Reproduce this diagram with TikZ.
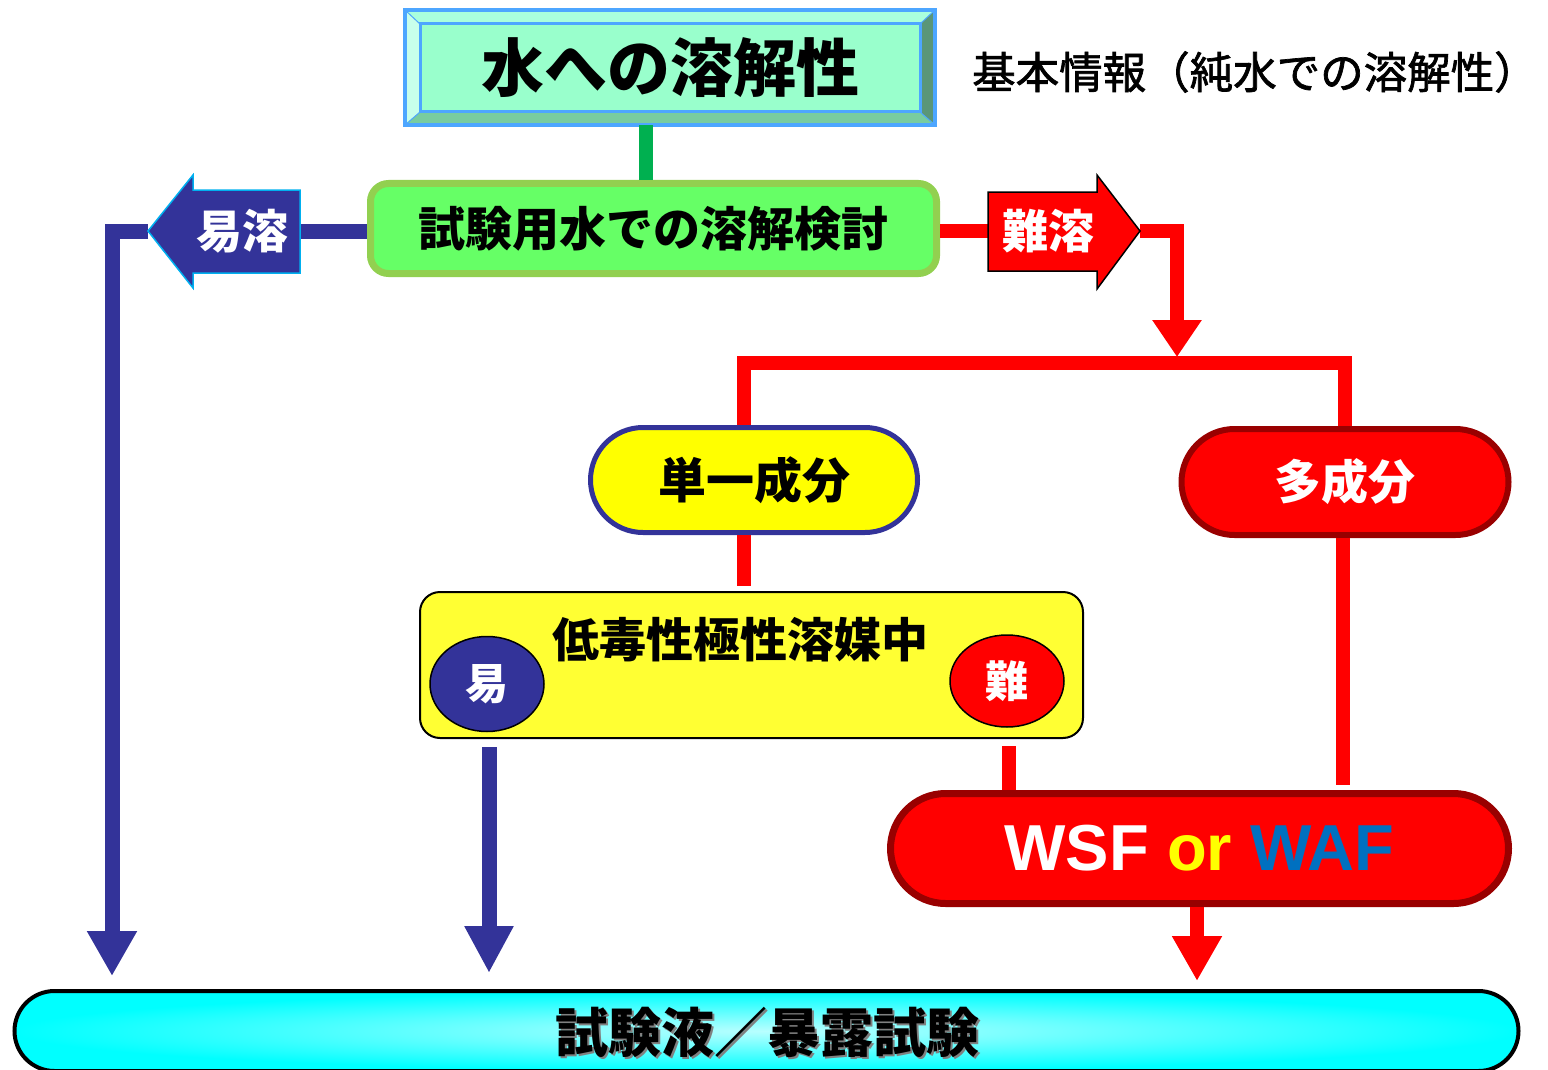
\documentclass[tikz,border=0pt]{standalone}
\usepackage{fontspec}
\newfontfamily\jp{Noto Sans CJK JP}
\newfontfamily\jpinfo{Noto Sans CJK JP}[FakeBold=1.6]
\newfontfamily\lat{Liberation Sans}
\usetikzlibrary{shapes.misc,shapes.geometric,arrows.meta,calc}
\definecolor{navy}{HTML}{333399}
\definecolor{rd}{HTML}{FF0000}
\definecolor{drd}{HTML}{990000}
\definecolor{grn}{HTML}{00B050}
\definecolor{lgreen}{HTML}{66FF66}
\definecolor{lgborder}{HTML}{92D050}
\definecolor{mint}{HTML}{99FFCC}
\definecolor{minttop}{HTML}{AAFFDD}
\definecolor{mintleft}{HTML}{C8FFEB}
\definecolor{mintright}{HTML}{5A9678}
\definecolor{mintbot}{HTML}{78CCA0}
\definecolor{skyb}{HTML}{4DA6FF}
\definecolor{arrowedge}{HTML}{00B0F0}
\definecolor{cyanout}{HTML}{00FFFF}
\definecolor{cyanin}{HTML}{B8FFFF}
\definecolor{wafblue}{HTML}{0070C0}
\definecolor{yel}{HTML}{FFFF00}
\definecolor{yel2}{HTML}{FFFF33}
\tikzset{
  jfont/.style={font=\jp\bfseries\fontsize{#1}{#1}\selectfont},
  blueline/.style={draw=navy,line width=15pt},
  redline/.style={draw=rd,line width=14pt},
  pill/.style={rounded rectangle,inner sep=0pt},
}
\begin{document}
\begin{tikzpicture}[x=1pt,y=-1pt]
\useasboundingbox (0,0) rectangle (1548,1070);
% ---- title bevel box
\fill[mint] (420,24) rectangle (920,112);
\fill[minttop] (405,10) -- (935,10) -- (920,24) -- (420,24) -- cycle;
\fill[mintleft] (405,10) -- (420,24) -- (420,112) -- (405,125) -- cycle;
\fill[mintright] (935,10) -- (935,125) -- (920,112) -- (920,24) -- cycle;
\fill[mintbot] (405,125) -- (420,112) -- (920,112) -- (935,125) -- cycle;
\draw[skyb,line width=1pt] (405,10) -- (420,24) (935,10) -- (920,24) (405,125) -- (420,112) (935,125) -- (920,112);
\draw[skyb,line width=3pt] (420,24) rectangle (920,112);
\draw[skyb,line width=3.5pt] (405,10) rectangle (935,125);
\node[jfont=63,minimum width=530pt,minimum height=115pt,inner sep=0pt] (title) at (670,67.5) {水への溶解性};
\node[font=\jpinfo\fontsize{43.5}{43.5}\selectfont,anchor=west,inner sep=0pt] (info) at (972,72) {基本情報（純水での溶解性）};
% ---- green study box
\node[jfont=47,draw=lgborder,fill=lgreen,line width=7pt,rounded corners=18pt,minimum width=566pt,minimum height=90pt,inner sep=0pt] (study) at (653.5,228.5) {試験用水での溶解検討};
\draw[grn,line width=14pt] ([xshift=-24pt]title.south) -- ([xshift=-7.5pt]study.north);
% ---- easy arrow
\coordinate (easytip) at (148,231);
\coordinate (easyback) at (300,231);
\coordinate (bl1) at (112,976);
\draw[blueline] (study.west |- easyback) -- (easyback);
\draw[blueline,-{Triangle[width=47pt,length=45pt]}] (easytip) -| (bl1);
\draw[fill=navy,draw=arrowedge,line width=1.5pt] (148,231) -- (193,175) -- (193,190) -- (300,190) -- (300,273) -- (193,273) -- (193,288) -- cycle;
\node[jfont=46,text=white] (easytxt) at (242,231) {易溶};
% ---- hard arrow
\coordinate (hardtip) at (1140,231);
\coordinate (hardback) at (988,231);
\coordinate (rd1) at (1177,357);
\coordinate (junc) at (1177,363);
\draw[redline] (study.east |- hardback) -- (hardback);
\draw[redline,-{Triangle[width=47pt,length=37pt]}] (hardtip) -| (rd1);
\draw[fill=rd,draw=black,line width=1.5pt] (988,192) -- (1097,192) -- (1097,175) -- (1140,231) -- (1097,289) -- (1097,271) -- (988,271) -- cycle;
\node[jfont=46,text=white] (hardtxt) at (1048,231) {難溶};
% ---- single / multi
\node[pill,jfont=48,draw=navy,fill=yel,line width=5pt,minimum width=327pt,minimum height=105pt] (single) at (754,480) {単一成分};
\node[pill,jfont=47,text=white,draw=drd,fill=rd,line width=6pt,minimum width=327pt,minimum height=106pt] (multi) at (1345,482) {多成分};
\draw[redline] ([xshift=-10pt]single.north) |- (junc) -| (multi.north);
% ---- solvent box
\node[draw=black,fill=yel2,line width=2pt,rounded corners=20pt,minimum width=663pt,minimum height=146pt,inner sep=0pt] (solvent) at (751.5,665) {};
\node[jfont=47] (solvtxt) at (740,640) {低毒性極性溶媒中};
\node[ellipse,draw=black,fill=navy,line width=1.5pt,minimum width=114pt,minimum height=95pt,inner sep=0pt,jfont=43,text=white] (easyc) at (487,684) {易};
\node[ellipse,draw=black,fill=rd,line width=1.5pt,minimum width=114pt,minimum height=92pt,inner sep=0pt,jfont=43,text=white] (hardc) at (1007,681) {難};
\draw[redline,shorten >=5pt] ([xshift=-10pt]single.south) -- ([xshift=-7.5pt]solvent.north);
% ---- WSF / WAF
\node[pill,draw=drd,fill=rd,line width=7pt,minimum width=618pt,minimum height=110pt,font=\lat\bfseries\fontsize{65}{65}\selectfont] (wsf) at (1199.5,848.5) {\textcolor{white}{WSF} \textcolor{yel}{or} \textcolor{wafblue}{WAF}};
\coordinate (bl2) at (489,973);
\coordinate (rd2) at (1197,981);
\draw[blueline,shorten <=8pt,-{Triangle[width=46pt,length=47pt]}] (bl2 |- solvent.south) -- (bl2);
\draw[redline,shorten <=7pt] ([xshift=2pt]hardc.south |- solvent.south) -- ([xshift=2pt]hardc.south |- wsf.north);
\draw[redline,shorten >=5pt] ([xshift=-2pt]multi.south) -- ([xshift=-2pt]multi.south |- wsf.north);
\draw[redline,-{Triangle[width=47pt,length=45pt]}] ([xshift=-2.5pt]wsf.south) -- (rd2);
% ---- bottom test bar
\node[pill,draw=black,line width=4pt,inner color=cyanin,outer color=cyanout,minimum width=1504pt,minimum height=80pt] (test) at (766.5,1031) {};
\node[jfont=53,text=gray] (testshadow) at (769,1034) {試験液／暴露試験};
\node[jfont=53] (testtxt) at (767,1032) {試験液／暴露試験};
\end{tikzpicture}
\end{document}
